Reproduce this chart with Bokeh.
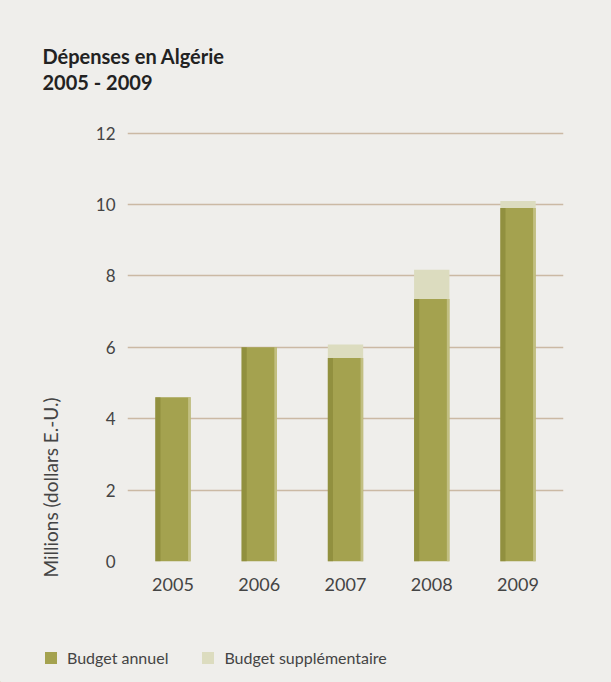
from bokeh.plotting import figure
from bokeh.models import FactorRange, Range1d, FixedTicker, Title, Legend
from bokeh.transform import dodge
from bokeh.embed import file_html
from bokeh.resources import INLINE

years = ["2005", "2006", "2007", "2008", "2009"]
budget_annuel = [4.6, 6.0, 5.7, 7.35, 9.9]
budget_supp = [0.0, 0.0, 0.38, 0.82, 0.2]
y_ticks = [0, 2, 4, 6, 8, 10, 12]

title_lines = ["Dépenses en Algérie", "2005 - 2009"]
y_label = "Millions (dollars E.-U.)"
series_names = ["budget_annuel", "budget_supp"]
legend_labels = ["Budget annuel", "Budget supplémentaire"]
colors = ["#a4a24f", "#dcdcbf"]

BG = "#efeeeb"
FONT = "Lato"
TXT = "#444444"

p = figure(width=611, height=630, output_backend="svg", toolbar_location=None,
           x_range=FactorRange(factors=years, range_padding=0.011),
           y_range=Range1d(0, 12.1),
           min_border_left=127, min_border_right=48, min_border_top=129,
           min_border_bottom=69)
p.background_fill_color = BG
p.border_fill_color = BG
p.outline_line_color = None

data = dict(years=years, budget_annuel=budget_annuel, budget_supp=budget_supp)
stack = p.vbar_stack(series_names, x="years", width=0.41, source=data,
                     color=colors, line_color=None)
# shading on the bar edges
p.vbar(x=dodge("years", -0.175, range=p.x_range), width=0.06, top="budget_annuel",
       source=data, color="#858335", alpha=0.6, line_color=None)
p.vbar(x=dodge("years", 0.19, range=p.x_range), width=0.03, top="budget_annuel",
       source=data, color="#c9c78f", alpha=0.8, line_color=None)

p.xgrid.grid_line_color = None
p.ygrid.grid_line_color = "#cbb9a4"
p.ygrid.grid_line_width = 1.5
p.yaxis.ticker = FixedTicker(ticks=y_ticks)

for ax in (p.xaxis[0], p.yaxis[0]):
    ax.axis_line_color = None
    ax.major_tick_line_color = None
    ax.minor_tick_line_color = None
    ax.major_label_text_font = FONT
    ax.major_label_text_color = TXT

p.yaxis.major_label_text_font_size = "17px"
p.yaxis.major_label_standoff = 6
p.xaxis.major_label_text_font_size = "18px"
p.xaxis.major_label_standoff = 10

# vertical axis title, anchored at the bottom of the axis
ylab = Title(text=y_label, align="left", offset=-16, standoff=62,
             text_font=FONT, text_font_style="normal", text_font_size="19px",
             text_color=TXT)
p.add_layout(ylab, "left")

# chart title (two lines)
t = Title(text=title_lines[0] + "\n" + title_lines[1], align="left", offset=-85,
          standoff=70, text_font=FONT, text_font_style="bold",
          text_font_size="20px", text_line_height=1.1, text_color="#222222")
p.add_layout(t, "above")

# legend strip below the chart
lf = figure(width=611, height=52, output_backend="svg", toolbar_location=None,
            x_range=Range1d(0, 611), y_range=Range1d(0, 52),
            x_axis_type=None, y_axis_type=None,
            min_border_left=0, min_border_right=0, min_border_top=0,
            min_border_bottom=0)
lf.background_fill_color = BG
lf.border_fill_color = BG
lf.outline_line_color = None
lf.xgrid.visible = False
lf.ygrid.visible = False
r1 = lf.vbar(x=[-100], top=[1], width=1, color=colors[0], line_color=None)
r2 = lf.vbar(x=[-100], top=[1], width=1, color=colors[1], line_color=None)
legend = Legend(items=[(legend_labels[0], [r1]), (legend_labels[1], [r2])],
                location=(43, 15), orientation="horizontal",
                background_fill_alpha=0, border_line_color=None,
                padding=0, margin=0, spacing=32, glyph_width=15, glyph_height=15,
                label_standoff=9, label_text_font=FONT, label_text_font_size="16px",
                label_text_color=TXT)
lf.add_layout(legend)

html = file_html([p, lf], INLINE)
html = html.replace("</head>",
                    "<style>html, body { background-color: #efeeeb; }</style></head>", 1)
open("out.html", "w").write(html)
